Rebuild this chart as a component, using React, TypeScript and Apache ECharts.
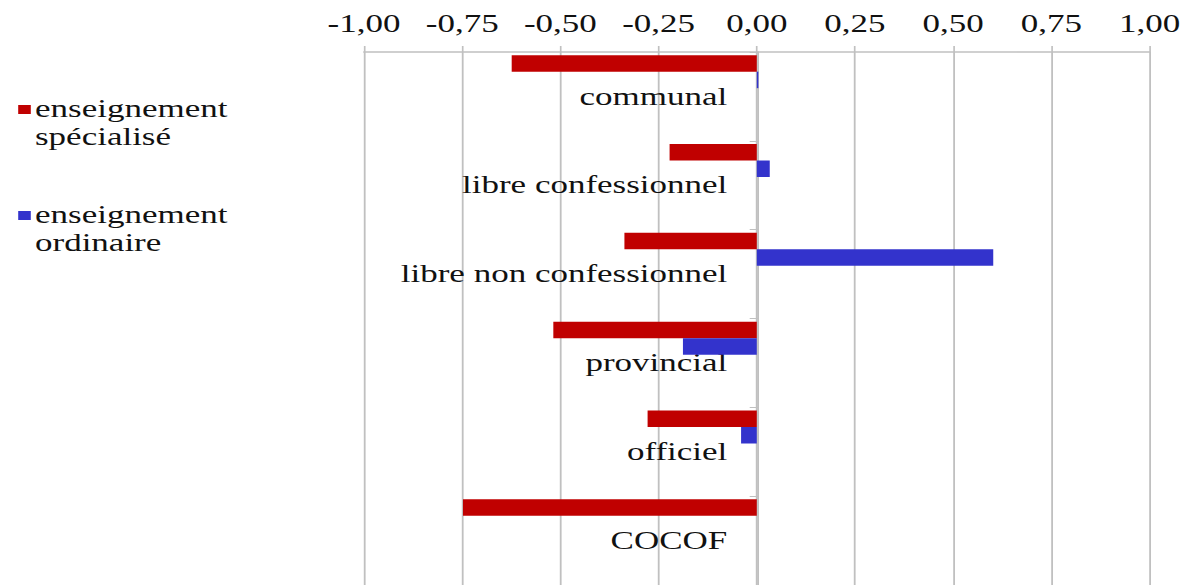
import React, { useEffect, useRef } from "react";
import * as echarts from "echarts";

const categories = [
  "communal",
  "libre confessionnel",
  "libre non confessionnel",
  "provincial",
  "officiel",
  "COCOF",
];
const specialise = [-0.624, -0.222, -0.337, -0.518, -0.278, -0.748];
const ordinaire = [0.004, 0.033, 0.602, -0.188, -0.04, 0];
const seriesNames = ["enseignement\nspécialisé", "enseignement\nordinaire"];
const xTicks = { min: -1, max: 1, interval: 0.25 };

const SX = 1.4;
const W = 1185 / SX;
const FONT = "Liberation Serif";
const GRID_LEFT = 260;
const GRID_W = 563;
const legendIcon = "path://M0,0 H10 V10 H0 Z M0,40 L0.01,40 L0,39.99 Z";

export default function App() {
  const ref = useRef<HTMLDivElement>(null);
  useEffect(() => {
    if (!ref.current) return;
    const chart = echarts.init(ref.current, null, { renderer: "svg" });
    const dummy = (i: number) => ({
      name: "_d" + i,
      type: "bar" as const,
      data: [] as number[],
      barWidth: 16.5,
      silent: true,
    });
    const zeroOffset = -GRID_W * ((0 - xTicks.min) / (xTicks.max - xTicks.min));
    chart.setOption({
      animation: false,
      textStyle: { fontFamily: FONT },
      legend: {
        orient: "vertical",
        left: 13,
        top: 95,
        padding: 0,
        itemGap: 50,
        itemWidth: 9,
        itemHeight: 40,
        data: seriesNames.map((n) => ({ name: n, icon: legendIcon })),
        textStyle: {
          fontFamily: FONT,
          fontSize: 25,
          lineHeight: 28,
          color: "#111111",
          padding: [0, 0, 0, -2],
        },
      },
      grid: { left: GRID_LEFT, width: GRID_W, top: 52, height: 537 },
      xAxis: {
        type: "value",
        position: "top",
        min: xTicks.min,
        max: xTicks.max,
        interval: xTicks.interval,
        axisLine: { show: true, lineStyle: { color: "#c0c0c0", width: 1.5 } },
        axisTick: { show: true, length: 6, lineStyle: { color: "#c0c0c0", width: 1.2 } },
        splitLine: { show: true, lineStyle: { color: "#c0c0c0", width: 1.3 } },
        axisLabel: {
          fontFamily: FONT,
          fontSize: 25,
          color: "#111111",
          margin: 16,
          formatter: (v: number) => v.toFixed(2).replace(".", ","),
        },
      },
      yAxis: {
        type: "category",
        inverse: true,
        data: categories,
        offset: zeroOffset,
        axisLine: { show: true, onZero: false, lineStyle: { color: "#c0c0c0", width: 1.3 } },
        axisTick: { show: true, length: 6, lineStyle: { color: "#c0c0c0" } },
        axisLabel: {
          fontFamily: FONT,
          fontSize: 25,
          color: "#111111",
          margin: 22,
        },
      },
      series: [
        {
          name: seriesNames[0],
          type: "bar",
          data: specialise,
          barWidth: 16.5,
          barGap: "0%",
          itemStyle: { color: "#c00000" },
        },
        {
          name: seriesNames[1],
          type: "bar",
          data: ordinaire,
          barWidth: 16.5,
          barGap: "0%",
          itemStyle: { color: "#3333cc" },
        },
        dummy(1),
        dummy(2),
        dummy(3),
      ],
    });
    return () => chart.dispose();
  }, []);
  return (
    <div
      ref={ref}
      style={{
        position: "absolute",
        left: 0,
        top: 0,
        width: W,
        height: 585,
        transform: `scaleX(${SX})`,
        transformOrigin: "0 0",
        background: "#fff",
      }}
    />
  );
}
